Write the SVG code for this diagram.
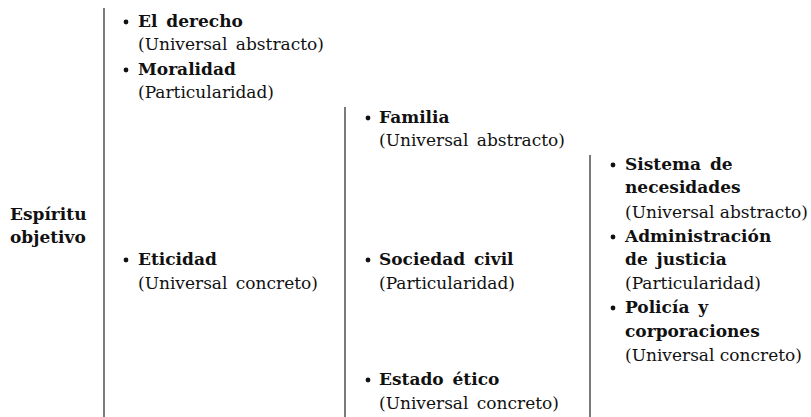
<svg xmlns="http://www.w3.org/2000/svg" width="811" height="417" viewBox="0 0 811 417" font-family="DejaVu Serif, serif">
<style>
text{font-size:17px;fill:#111;word-spacing:3px}
.b{font-weight:bold}
.t{word-spacing:0}
.dot{fill:#111}
.ln{stroke:#333;stroke-width:1.3}
</style>
<rect width="811" height="417" fill="#fff"/>
<g id="connectors">
<line class="ln" x1="104" y1="8" x2="104" y2="417"/>
<line class="ln" x1="345" y1="107" x2="345" y2="417"/>
<line class="ln" x1="590" y1="155" x2="590" y2="417"/>
</g>
<g id="root"><text class="b" x="10" y="220">Espíritu</text><text class="b" x="10" y="243">objetivo</text></g>
<g id="derecho"><circle class="dot" cx="126" cy="22" r="2.4"/><text class="b" x="138" y="27">El derecho</text><text x="138" y="50">(Universal abstracto)</text></g>
<g id="moralidad"><circle class="dot" cx="126" cy="70" r="2.4"/><text class="b" x="138" y="75">Moralidad</text><text x="138" y="98">(Particularidad)</text></g>
<g id="eticidad"><circle class="dot" cx="126" cy="260" r="2.4"/><text class="b" x="138" y="265">Eticidad</text><text x="138" y="289">(Universal concreto)</text></g>
<g id="familia"><circle class="dot" cx="368" cy="118" r="2.4"/><text class="b" x="379" y="123">Familia</text><text x="379" y="146">(Universal abstracto)</text></g>
<g id="sociedad"><circle class="dot" cx="368" cy="260" r="2.4"/><text class="b" x="379" y="265">Sociedad civil</text><text x="379" y="289">(Particularidad)</text></g>
<g id="estado"><circle class="dot" cx="368" cy="380" r="2.4"/><text class="b" x="379" y="385">Estado ético</text><text x="379" y="409">(Universal concreto)</text></g>
<g id="sistema"><circle class="dot" cx="613" cy="165" r="2.4"/><text class="b" x="625" y="170">Sistema de</text><text class="b" x="625" y="193">necesidades</text><text class="t" x="625" y="218">(Universal abstracto)</text></g>
<g id="administracion"><circle class="dot" cx="613" cy="237" r="2.4"/><text class="b" x="625" y="242">Administración</text><text class="b" x="625" y="265">de justicia</text><text x="625" y="289">(Particularidad)</text></g>
<g id="policia"><circle class="dot" cx="613" cy="308" r="2.4"/><text class="b" x="625" y="313">Policía y</text><text class="b" x="625" y="337">corporaciones</text><text class="t" x="625" y="361">(Universal concreto)</text></g>
</svg>
